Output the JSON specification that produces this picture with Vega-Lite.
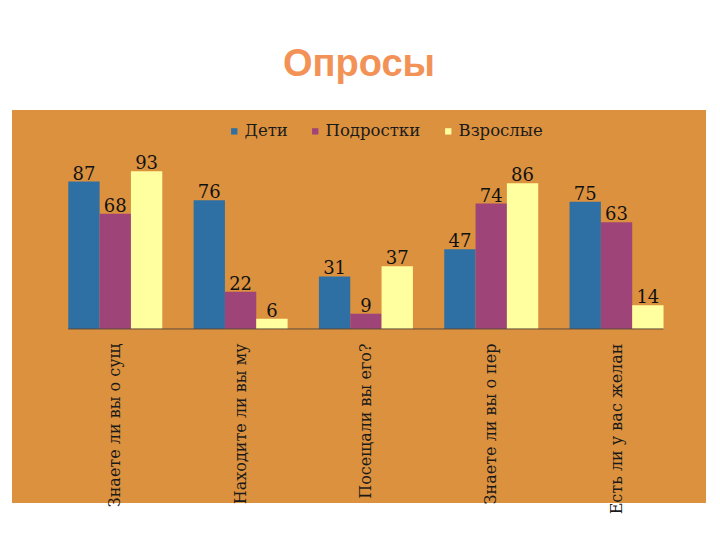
{
  "$schema": "https://vega.github.io/schema/vega-lite/v6.json",
  "width": 694,
  "height": 393,
  "autosize": {"type": "none"},
  "padding": {"left": 12, "top": 110, "right": 14, "bottom": 37},
  "background": "white",
  "title": {
    "text": "Опросы",
    "font": "Liberation Sans",
    "fontSize": 38,
    "fontWeight": "bold",
    "color": "#f29257",
    "anchor": "middle",
    "baseline": "alphabetic",
    "offset": -4
  },
  "config": {"view": {"fill": "#dc913e", "stroke": null}},
  "data": {
    "values": [
      {"question": "Знаете ли вы о сущ", "group": "Дети", "value": 87},
      {"question": "Знаете ли вы о сущ", "group": "Подростки", "value": 68},
      {"question": "Знаете ли вы о сущ", "group": "Взрослые", "value": 93},
      {"question": "Находите ли вы му", "group": "Дети", "value": 76},
      {"question": "Находите ли вы му", "group": "Подростки", "value": 22},
      {"question": "Находите ли вы му", "group": "Взрослые", "value": 6},
      {"question": "Посещали вы его?", "group": "Дети", "value": 31},
      {"question": "Посещали вы его?", "group": "Подростки", "value": 9},
      {"question": "Посещали вы его?", "group": "Взрослые", "value": 37},
      {"question": "Знаете ли вы о пер", "group": "Дети", "value": 47},
      {"question": "Знаете ли вы о пер", "group": "Подростки", "value": 74},
      {"question": "Знаете ли вы о пер", "group": "Взрослые", "value": 86},
      {"question": "Есть ли у вас желан", "group": "Дети", "value": 75},
      {"question": "Есть ли у вас желан", "group": "Подростки", "value": 63},
      {"question": "Есть ли у вас желан", "group": "Взрослые", "value": 14}
    ]
  },
  "encoding": {
    "x": {
      "field": "question",
      "type": "nominal",
      "sort": null,
      "scale": {"paddingInner": 0.25, "paddingOuter": 0.394, "align": 0.57},
      "axis": {
        "orient": "bottom",
        "offset": -160,
        "title": null,
        "domain": false,
        "ticks": false,
        "labelAngle": -90,
        "labelAlign": "right",
        "labelBaseline": "middle",
        "labelPadding": 0,
        "labelFont": "DejaVu Serif",
        "labelFontSize": 16,
        "labelColor": "#1a1a1a",
        "labelLimit": 300
      }
    }
  },
  "layer": [
    {
      "mark": {"type": "bar"},
      "encoding": {
        "xOffset": {"field": "group", "type": "nominal", "sort": ["Дети", "Подростки", "Взрослые"], "scale": {"paddingInner": 0, "paddingOuter": 0}},
        "y": {"field": "value", "type": "quantitative", "scale": {"domain": [-102.7, 129.2], "nice": false, "zero": false}, "axis": null},
        "color": {
          "field": "group",
          "type": "nominal",
          "sort": ["Дети", "Подростки", "Взрослые"],
          "scale": {"domain": ["Дети", "Подростки", "Взрослые"], "range": ["#2e70a4", "#9e4479", "#ffff9f"]},
          "legend": {
            "orient": "none",
            "legendX": 214,
            "legendY": 13,
            "direction": "horizontal",
            "title": null,
            "symbolType": "square",
            "symbolSize": 40,
            "symbolStrokeWidth": 0,
            "labelFont": "DejaVu Serif",
            "labelFontSize": 16.5,
            "labelColor": "#1a1a1a",
            "columnPadding": 19,
            "labelOffset": 2
          }
        }
      }
    },
    {
      "mark": {"type": "text", "font": "DejaVu Serif", "fontSize": 18, "baseline": "alphabetic", "dy": -2, "color": "#111111"},
      "encoding": {
        "xOffset": {"field": "group", "type": "nominal", "sort": ["Дети", "Подростки", "Взрослые"], "scale": {"paddingInner": 0, "paddingOuter": 0}},
        "y": {"field": "value", "type": "quantitative"},
        "text": {"field": "value", "type": "quantitative"}
      }
    },
    {
      "data": {"values": [{}]},
      "mark": {"type": "rule", "color": "#5b4a3c", "strokeWidth": 1},
      "encoding": {
        "x": {"datum": "Знаете ли вы о сущ", "bandPosition": 0},
        "x2": {"datum": "Есть ли у вас желан", "bandPosition": 1},
        "y": {"datum": 0}
      }
    }
  ]
}
